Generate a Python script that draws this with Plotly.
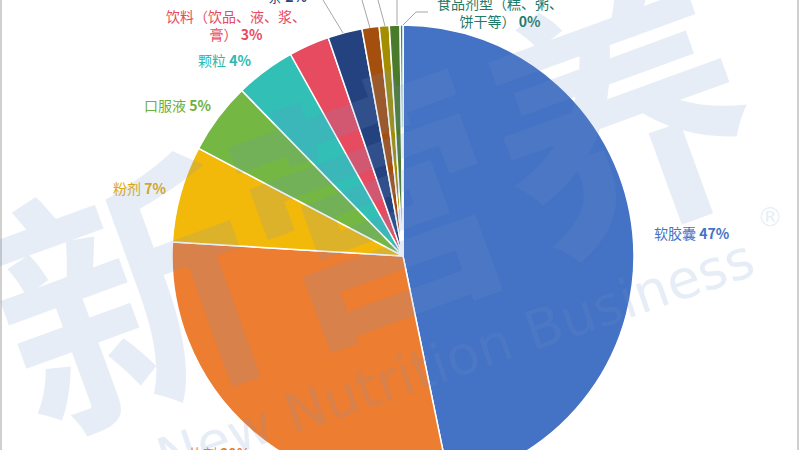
import plotly.graph_objects as go

# ---- data (slice shares; label text as printed) ----
slice_names = ["软胶囊", "片剂", "粉剂", "口服液", "颗粒",
               "饮料（饮品、液、浆、膏）", "条", "剂型8", "剂型9", "剂型10",
               "食品剂型（糕、粥、饼干等）"]
slice_share = [46.8, 29.2, 6.75, 5.0, 4.2, 2.85, 2.4, 1.2, 0.7, 0.75, 0.2]
label_pct = ["47%", "29%", "7%", "5%", "4%", "3%", "2%", "1%", "1%", "1%", "0%"]
label_lines = ["软胶囊", "片剂", "粉剂", "口服液", "颗粒",
               "饮料（饮品、液、浆、\n膏）", "条", None, None, None,
               "食品剂型（糕、粥、\n饼干等）"]
slice_colors = ["#4472C4", "#ED7D31", "#F2B90A", "#74B743", "#31BFB6",
                "#E64B5F", "#24427F", "#A44F0E", "#A38E00", "#4A7A2C", "#2B8A72"]
label_colors = ["#4472C4", "#ED7D31", "#E6AA05", "#6DAF3F", "#2DB9B0",
                "#E84A5F", "#264478", None, None, None, "#1F7A68"]
# label anchor positions (pixels from top-left of an 800x500 canvas)
label_px = [(692, 233), (220, 453), (139, 188), (177, 105), (224, 60),
            (236, 25), (287, -4), None, None, None, (500, 12)]

W, H = 800, 500


def px(x, y):
    return x / W, 1 - y / H


fig = go.Figure()
fig.add_trace(go.Pie(
    labels=slice_names,
    values=slice_share,
    sort=False,
    direction="clockwise",
    rotation=0,
    marker=dict(colors=slice_colors, line=dict(color="white", width=1.5)),
    textinfo="none",
    hoverinfo="label+percent",
    showlegend=False,
    domain=dict(x=[172 / W, 634 / W], y=[1 - 487 / H, 1 - 25 / H]),
))

annotations = []
for name, pct, col, pos in zip(label_lines, label_pct, label_colors, label_px):
    if name is None:
        continue
    txt = name.replace("\n", "<br>") + " <b>" + pct + "</b>"
    x, y = px(*pos)
    annotations.append(dict(
        x=x, y=y, xref="paper", yref="paper", text=txt, showarrow=False,
        font=dict(family="Noto Sans CJK SC", size=14, color=col),
        xanchor="center", yanchor="middle", align="center"))

# watermark
wm = "rgba(110,150,200,0.17)"
x, y = px(368, 192)
annotations.append(dict(x=x, y=y, xref="paper", yref="paper", text="<b>新营养</b>",
                        showarrow=False, textangle=-20, xanchor="center", yanchor="middle",
                        font=dict(family="Noto Sans CJK SC", size=262, color=wm)))
x, y = px(455, 358)
annotations.append(dict(x=x, y=y, xref="paper", yref="paper",
                        text="New Nutrition Business", showarrow=False, textangle=-19,
                        xanchor="center", yanchor="middle",
                        font=dict(family="DejaVu Sans", size=54, color=wm)))
x, y = px(770, 217)
annotations.append(dict(x=x, y=y, xref="paper", yref="paper", text="®",
                        showarrow=False, xanchor="center", yanchor="middle",
                        font=dict(family="DejaVu Sans", size=26, color=wm)))

# leader lines for the small slices (toward labels above the frame)
leader_paths = [
    [(343, 33), (323, 0)],
    [(370, 28), (362, 0)],
    [(385, 26), (378, 0)],
    [(397, 25), (397, 0)],
    [(403, 25), (416, 12), (428, 12)],
]
shapes = []
for pts in leader_paths:
    d = "M " + " L ".join(f"{px(a, b)[0]:.5f},{px(a, b)[1]:.5f}" for a, b in pts)
    shapes.append(dict(type="path", path=d, xref="paper", yref="paper",
                       line=dict(color="#A6A6A6", width=1)))
# frame edges
for xe in (1, 798):
    shapes.append(dict(type="line", xref="paper", yref="paper",
                       x0=xe / W, x1=xe / W, y0=0, y1=1,
                       line=dict(color="#D0D0D0", width=2)))

fig.update_layout(
    width=W, height=H,
    margin=dict(l=0, r=0, t=0, b=0, pad=0),
    paper_bgcolor="white", plot_bgcolor="white",
    annotations=annotations, shapes=shapes,
)

fig.write_html("out.html",
               config={"displayModeBar": False},
               post_script="document.body.style.margin='0';document.body.style.overflow='hidden';")
